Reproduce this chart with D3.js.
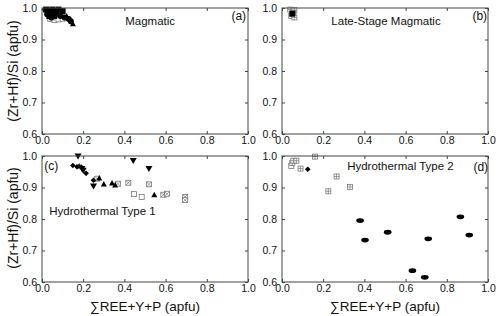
<!DOCTYPE html>
<html>
<head>
<meta charset="utf-8">
<script src="https://cdn.jsdelivr.net/npm/d3@7"></script>
<style>
  body { margin: 0; background: #fff; }
  svg text { font-family: "Liberation Sans", Arial, sans-serif; fill: #111; }
</style>
</head>
<body>
<div id="chart"></div>
<script>
// ---- data, [sumREE+Y+P, (Zr+Hf)/Si] ----
// (a) Magmatic
const aFilledSquare = [[0.02, 0.995], [0.03, 0.99], [0.04, 0.985], [0.05, 0.995], [0.06, 0.99], [0.07, 0.985], [0.08, 0.995], [0.1, 0.99], [0.035, 0.975], [0.06, 0.975]];
const aCircle = [[0.025, 0.98], [0.045, 0.97], [0.065, 0.98], [0.09, 0.975], [0.11, 0.97], [0.13, 0.965], [0.14, 0.958]];
const aOpenSquare = [[0.04, 0.965], [0.06, 0.962], [0.08, 0.964], [0.1, 0.966], [0.05, 0.97]];
const aUpTri = [[0.15, 0.95], [0.12, 0.975]];

// (b) Late-Stage Magmatic
const bPlusSquare = [[0.04, 0.995], [0.06, 0.993], [0.045, 0.975], [0.06, 0.97], [0.055, 0.985]];
const bFilledSquare = [[0.05, 0.982]];

// (c) Hydrothermal Type 1
const cDiamond = [[0.15, 0.97], [0.17, 0.966], [0.19, 0.965], [0.214, 0.945], [0.25, 0.923]];
const cDownTri = [[0.175, 1.0], [0.194, 0.96], [0.2, 0.955], [0.443, 0.986], [0.519, 0.96], [0.25, 0.905]];
const cUpTri = [[0.278, 0.93], [0.3, 0.911], [0.34, 0.914], [0.355, 0.908], [0.545, 0.877], [0.18, 0.968]];
const cCrossSquare = [[0.268, 0.928], [0.369, 0.912], [0.419, 0.915], [0.519, 0.91], [0.589, 0.877], [0.607, 0.88], [0.695, 0.87], [0.695, 0.86]];
const cOpenSquare = [[0.447, 0.879], [0.484, 0.87]];

// (d) Hydrothermal Type 2
const dOpenSquare = [[0.045, 0.968]];
const dPlusSquare = [[0.05, 0.978], [0.055, 0.985], [0.07, 0.985], [0.09, 0.96], [0.16, 0.998], [0.225, 0.888], [0.265, 0.935], [0.33, 0.902]];
const dDiamond = [[0.125, 0.958]];
const dEllipse = [[0.379, 0.795], [0.403, 0.733], [0.513, 0.758], [0.633, 0.636], [0.693, 0.615], [0.71, 0.737], [0.866, 0.807], [0.909, 0.749]];

const xTicks = [0, 0.2, 0.4, 0.6, 0.8, 1.0];
const yTicks = [0.6, 0.7, 0.8, 0.9, 1.0];

const W = 500, H = 316;
const pw = 206, ph = 126;

// title / tag placement in data units, text centred
const panels = [
  { left: 42, top: 8, tag: "(a)", tagX: 0.955, tagY: 0.975, title: "Magmatic", titleX: 0.525, titleY: 0.96, titleAnchor: "middle",
    series: [[aOpenSquare, "open"], [aFilledSquare, "fsq"], [aCircle, "circle"], [aUpTri, "up"]] },
  { left: 282, top: 8, tag: "(b)", tagX: 0.96, tagY: 0.975, title: "Late-Stage Magmatic", titleX: 0.505, titleY: 0.96, titleAnchor: "middle",
    series: [[bPlusSquare, "plus"], [bFilledSquare, "fsq"]] },
  { left: 42, top: 156, tag: "(c)", tagX: 0.045, tagY: 0.97, title: "Hydrothermal Type 1", titleX: 0.035, titleY: 0.825, titleAnchor: "start",
    series: [[cOpenSquare, "open"], [cCrossSquare, "cross"], [cUpTri, "up"], [cDownTri, "down"], [cDiamond, "diamond"]] },
  { left: 282, top: 156, tag: "(d)", tagX: 0.965, tagY: 0.967, title: "Hydrothermal Type 2", titleX: 0.575, titleY: 0.967, titleAnchor: "middle",
    series: [[dOpenSquare, "open"], [dPlusSquare, "plus"], [dDiamond, "diamond"], [dEllipse, "ellipse"]] }
];

const svg = d3.select("#chart").append("svg").attr("width", W).attr("height", H);

function drawMarker(g, kind, x, y) {
  const grey = "#777";
  if (kind === "fsq") {
    g.append("rect").attr("x", x - 3).attr("y", y - 3).attr("width", 6).attr("height", 6).attr("fill", "#000");
  } else if (kind === "open") {
    g.append("rect").attr("x", x - 2.5).attr("y", y - 2.5).attr("width", 5).attr("height", 5)
      .attr("fill", "#fff").attr("stroke", grey).attr("stroke-width", 0.8);
  } else if (kind === "plus" || kind === "cross") {
    g.append("rect").attr("x", x - 2.5).attr("y", y - 2.5).attr("width", 5).attr("height", 5)
      .attr("fill", "#fff").attr("stroke", grey).attr("stroke-width", 0.8);
    const p = kind === "plus"
      ? `M${x - 2.5},${y}H${x + 2.5}M${x},${y - 2.5}V${y + 2.5}`
      : `M${x - 2.5},${y - 2.5}L${x + 2.5},${y + 2.5}M${x + 2.5},${y - 2.5}L${x - 2.5},${y + 2.5}`;
    g.append("path").attr("d", p).attr("stroke", grey).attr("stroke-width", 0.7).attr("fill", "none");
  } else if (kind === "circle") {
    g.append("circle").attr("cx", x).attr("cy", y).attr("r", 3).attr("fill", "#000");
  } else if (kind === "up") {
    g.append("path").attr("d", `M${x},${y - 3}L${x + 3},${y + 2.5}L${x - 3},${y + 2.5}Z`).attr("fill", "#000");
  } else if (kind === "down") {
    g.append("path").attr("d", `M${x - 3.5},${y - 2.5}L${x + 3.5},${y - 2.5}L${x},${y + 3.5}Z`).attr("fill", "#000");
  } else if (kind === "diamond") {
    g.append("path").attr("d", `M${x},${y - 2.8}L${x + 2.8},${y}L${x},${y + 2.8}L${x - 2.8},${y}Z`).attr("fill", "#000");
  } else if (kind === "ellipse") {
    g.append("ellipse").attr("cx", x).attr("cy", y).attr("rx", 3.8).attr("ry", 2.4).attr("fill", "#000");
  }
}

panels.forEach(p => {
  const x = d3.scaleLinear().domain([0, 1]).range([0, pw]);
  const y = d3.scaleLinear().domain([0.6, 1.0]).range([ph, 0]);
  const g = svg.append("g").attr("transform", `translate(${p.left},${p.top})`);

  // inward ticks on all sides
  const axB = g.append("g").attr("transform", `translate(0,${ph})`)
    .call(d3.axisBottom(x).tickValues(xTicks).tickSizeInner(-3).tickSizeOuter(0).tickPadding(3).tickFormat(d3.format(".1f")));
  const axT = g.append("g")
    .call(d3.axisTop(x).tickValues(xTicks).tickSizeInner(-3).tickSizeOuter(0).tickFormat(""));
  const axL = g.append("g")
    .call(d3.axisLeft(y).tickValues(yTicks).tickSizeInner(-3).tickSizeOuter(0).tickPadding(5).tickFormat(d3.format(".1f")));
  const axR = g.append("g").attr("transform", `translate(${pw},0)`)
    .call(d3.axisRight(y).tickValues(yTicks).tickSizeInner(-3).tickSizeOuter(0).tickFormat(""));
  [axB, axT, axL, axR].forEach(a => {
    a.select(".domain").remove();
    a.selectAll("line").attr("stroke", "#444");
    a.selectAll("text").style("font-size", "10.5px").attr("fill", "#111");
  });

  const plot = g.append("g");
  p.series.forEach(([pts, kind]) => {
    pts.forEach(d => drawMarker(plot, kind, x(d[0]), y(d[1])));
  });

  g.append("rect").attr("width", pw).attr("height", ph)
    .attr("fill", "none").attr("stroke", "#444").attr("stroke-width", 1);

  g.append("text").attr("x", x(p.titleX)).attr("y", y(p.titleY)).attr("dy", "0.35em")
    .attr("text-anchor", p.titleAnchor).style("font-size", "11.5px").text(p.title);
  g.append("text").attr("x", x(p.tagX)).attr("y", y(p.tagY)).attr("dy", "0.35em")
    .attr("text-anchor", "middle").style("font-size", "12px").text(p.tag);
});

// axis titles
[71, 218].forEach(cy => {
  svg.append("text").attr("transform", `translate(13,${cy}) rotate(-90)`)
    .attr("text-anchor", "middle").attr("dy", "0.35em").style("font-size", "14px").text("(Zr+Hf)/Si (apfu)");
});
[145, 385].forEach(cx => {
  svg.append("text").attr("x", cx).attr("y", 306).attr("text-anchor", "middle").attr("dy", "0.35em")
    .style("font-size", "13.5px").text("\u2211REE+Y+P (apfu)");
});
</script>
</body>
</html>
